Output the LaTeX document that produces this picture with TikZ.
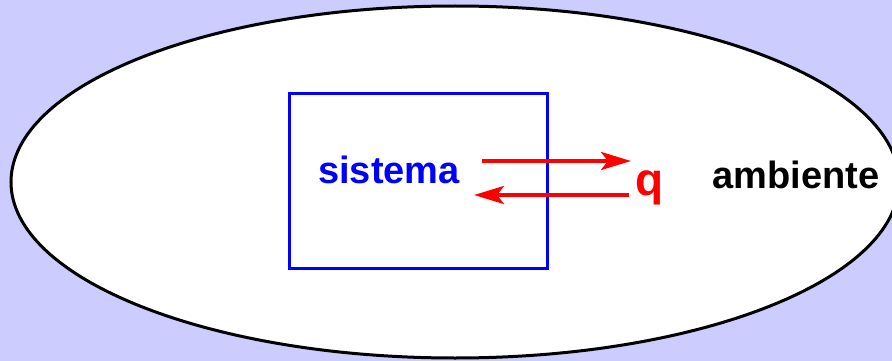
\documentclass[tikz,border=0pt]{standalone}
\usepackage{fontspec}
\setmainfont{Liberation Sans}
\usepackage{tikz}
\usetikzlibrary{arrows.meta}

\definecolor{fondo}{RGB}{204,204,255}
\tikzset{
  texto/.style={anchor=base,font=\fontsize{38}{42}\selectfont\bfseries},
  flecha/.style={red,line width=4pt,-{Stealth[length=30pt,width=18pt,inset=7pt]}}
}

\begin{document}
\begin{tikzpicture}[x=1pt,y=-1pt]
\useasboundingbox (0,0) rectangle (892,361);
\fill[fondo] (0,0) rectangle (892,361);
\clip (0,0) rectangle (892,361);
\draw[black,line width=3pt,fill=white] (455,182) ellipse [x radius=444pt,y radius=176pt];
\draw[blue,line width=3pt] (289,94) rectangle (547,268);
\node[texto,blue] (S) at (389,183) {sistema};
\node[texto,red,font=\fontsize{46}{48}\selectfont\bfseries] (Q) at (650,195) {q};
\node[texto] (A) at (796,188) {ambiente};

\coordinate (a1) at (482,161);
\coordinate (a2) at (631,161);
\coordinate (b1) at (629,195);
\coordinate (b2) at (474,195);
\draw[flecha] (a1) -- (a2);
\draw[flecha] (b1) -- (b2);

\end{tikzpicture}
\end{document}
